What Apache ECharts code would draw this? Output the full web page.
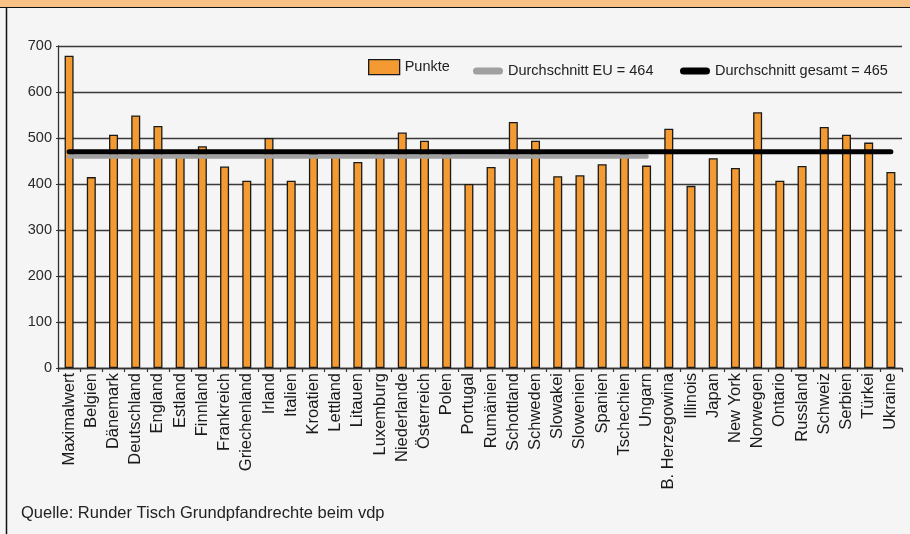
<!DOCTYPE html>
<html>
<head>
<meta charset="utf-8">
<script src="https://cdn.jsdelivr.net/npm/echarts@6/dist/echarts.min.js"></script>
<style>
html,body{margin:0;padding:0;background:#f5f5f5;}
#c{width:910px;height:534px;}
</style>
</head>
<body>
<div id="c"></div>
<script>
const categories = ['Maximalwert','Belgien','Dänemark','Deutschland','England','Estland','Finnland','Frankreich','Griechenland','Irland','Italien','Kroatien','Lettland','Litauen','Luxemburg','Niederlande','Österreich','Polen','Portugal','Rumänien','Schottland','Schweden','Slowakei','Slowenien','Spanien','Tschechien','Ungarn','B. Herzegowina','Illinois','Japan','New York','Norwegen','Ontario','Russland','Schweiz','Serbien','Türkei','Ukraine'];
const punkte = [679,415,507,549,526,462,482,438,407,500,407,466,463,448,472,512,494,467,400,437,535,494,417,419,443,466,440,520,396,456,435,556,407,439,524,507,490,426];
const euName = 'Durchschnitt EU = 464';
const euLevel = 460;            // drawn height of the EU line
const euLastCategory = 'Ungarn';
const allName = 'Durchschnitt gesamt = 465';
const allLevel = 470;           // drawn height of the overall line
const yTicks = [0,100,200,300,400,500,600,700];
const sourceText = 'Quelle: Runder Tisch Grundpfandrechte beim vdp';

const euEnd = categories.indexOf(euLastCategory);
const euData = categories.map((c,i) => i <= euEnd ? euLevel : null);
const allData = categories.map(() => allLevel);

const chart = echarts.init(document.getElementById('c'), null, {renderer:'canvas'});
const stadium = 'path://M3.5,0 L26.5,0 A3.5,3.5 0 0 1 26.5,7 L3.5,7 A3.5,3.5 0 0 1 3.5,0 Z';
const legendText = {fontFamily:'Liberation Sans', fontSize:14.5, color:'#222'};
chart.setOption({
  backgroundColor:'#f5f5f5',
  animation:false,
  title:{
    text: sourceText, left: 21, top: 505, padding: 0,
    textStyle:{fontFamily:'Liberation Sans', fontSize:16.5, fontWeight:'normal', color:'#222'}
  },
  graphic:[
    {type:'rect', shape:{x:0,y:0,width:910,height:7}, style:{fill:'#f8c185'}, silent:true},
    {type:'line', shape:{x1:0,y1:7.5,x2:910,y2:7.5}, style:{stroke:'#111',lineWidth:1.2}, silent:true},
    {type:'line', shape:{x1:6.5,y1:7,x2:6.5,y2:534}, style:{stroke:'#111',lineWidth:1.5}, silent:true}
  ],
  legend:[
    {data:[{name:'Punkte', icon:'rect'}], left:368, top:59, padding:0, itemWidth:31, itemHeight:15,
     itemStyle:{borderColor:'#1a1a1a', borderWidth:1.3}, textStyle:legendText},
    {data:[{name:euName, icon:stadium}], left:473, top:63.5, padding:0, itemWidth:30, itemHeight:7,
     itemStyle:{borderWidth:0}, textStyle:legendText},
    {data:[{name:allName, icon:stadium}], left:680, top:63.5, padding:0, itemWidth:30, itemHeight:7,
     itemStyle:{borderWidth:0}, textStyle:legendText}
  ],
  grid:{left:58, right:8, top:46, bottom:166, containLabel:false},
  xAxis:{
    type:'category', data:categories,
    axisLine:{show:true, lineStyle:{color:'#333', width:1.3}},
    axisTick:{show:true, length:4, alignWithLabel:false, lineStyle:{color:'#333', width:1.2}},
    axisLabel:{rotate:90, interval:0, margin:5, fontFamily:'Liberation Sans', fontSize:16.5, color:'#1a1a1a'},
    splitLine:{show:false}
  },
  yAxis:{
    type:'value', min:yTicks[0], max:yTicks[yTicks.length-1], interval:100,
    axisLine:{show:true, lineStyle:{color:'#333', width:1.3}},
    axisTick:{show:true, length:2, lineStyle:{color:'#333', width:1.2}},
    axisLabel:{margin:6, fontFamily:'Liberation Sans', fontSize:14.5, color:'#2a2a2a'},
    splitLine:{show:true, lineStyle:{color:'#3a3a3a', width:1.4}}
  },
  series:[
    {name:'Punkte', type:'bar', data:punkte, barWidth:9, z:2,
     itemStyle:{color:'#f39b32', borderColor:'#1a1a1a', borderWidth:1.3}},
    {name:euName, type:'line', data:euData, symbol:'none', z:3, connectNulls:false,
     itemStyle:{color:'#a0a0a0'}, lineStyle:{color:'#a0a0a0', width:4.5, cap:'round'}},
    {name:allName, type:'line', data:allData, symbol:'none', z:4,
     itemStyle:{color:'#000'}, lineStyle:{color:'#000', width:5, cap:'round'}}
  ]
});
</script>
</body>
</html>
